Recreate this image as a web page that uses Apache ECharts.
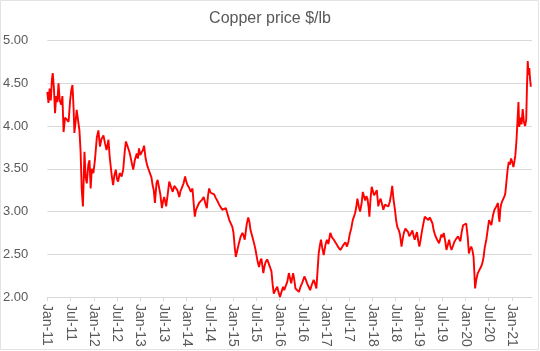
<!DOCTYPE html>
<html>
<head>
<meta charset="utf-8">
<script src="https://cdn.jsdelivr.net/npm/echarts@6/dist/echarts.min.js"></script>
<style>
html,body{margin:0;padding:0;background:#fff;}
#chart{width:540px;height:351px;}
</style>
</head>
<body>
<div id="chart"></div>
<script>
// Months since Jan 2011 (fractional) and copper price in $/lb
var months = [
0.0,0.3,0.6,0.9,1.2,1.4,1.7,2.0,2.3,2.6,2.9,3.2,3.6,3.9,4.2,4.6,5.1,5.5,5.9,6.2,6.5,6.8,7.0,7.3,7.6,8.0,8.3,8.6,8.9,9.2,9.6,9.9,
10.2,10.6,10.9,11.2,11.5,11.9,12.3,12.8,13.2,13.6,14.0,14.5,14.9,15.3,15.8,16.1,16.4,16.7,17.0,17.3,17.7,18.0,18.3,18.7,19.2,19.6,
20.0,20.3,20.6,20.9,21.2,21.5,21.9,22.2,22.6,23.1,23.4,23.7,24.0,24.3,24.7,25.0,25.4,25.8,26.1,26.5,26.9,27.2,27.5,27.8,28.2,28.5,28.9,
29.2,29.6,29.9,30.2,30.7,31.1,31.5,32.0,32.4,32.8,33.2,33.6,34.1,34.4,34.7,35.2,35.6,35.9,36.2,36.6,37.1,37.5,37.8,38.1,38.4,38.8,
39.2,39.7,40.0,40.4,40.8,41.2,41.5,41.8,42.2,42.7,43.1,43.5,44.0,44.4,44.8,45.2,45.6,46.1,46.5,47.0,47.4,47.8,48.1,48.4,48.7,49.1,
49.5,49.9,50.4,50.7,51.0,51.5,51.9,52.2,52.5,53.0,53.4,53.8,54.1,54.4,54.7,55.0,55.3,55.6,55.8,56.1,56.4,56.8,57.2,57.6,57.9,58.2,
58.5,58.9,59.4,59.7,60.1,60.5,60.9,61.2,61.5,62.0,62.4,62.7,63.0,63.5,63.8,64.1,64.6,65.0,65.4,65.8,66.4,66.8,67.1,67.5,67.9,68.3,
68.8,69.2,69.5,69.8,70.1,70.4,70.7,71.0,71.4,71.8,72.2,72.6,73.1,73.5,74.0,74.4,74.8,75.2,75.7,76.1,76.5,77.0,77.4,77.8,78.1,78.5,
78.9,79.2,79.5,79.8,80.1,80.5,80.8,81.2,81.5,81.8,82.1,82.4,82.7,83.0,83.2,83.5,83.8,84.1,84.4,84.8,85.1,85.5,85.8,86.1,86.5,86.8,
87.2,87.7,88.1,88.5,88.8,89.1,89.4,89.8,90.1,90.4,90.8,91.1,91.5,91.8,92.1,92.5,92.8,93.2,93.5,93.9,94.3,94.6,94.9,95.2,95.5,95.8,
96.1,96.4,96.7,97.1,97.5,97.9,98.4,98.8,99.2,99.5,99.8,100.2,100.5,100.8,101.2,101.5,101.8,102.1,102.4,102.8,103.1,103.4,103.8,
104.1,104.4,104.8,105.2,105.6,106.1,106.4,106.7,107.0,107.4,107.8,108.2,108.6,108.9,109.2,109.5,109.8,110.1,110.3,110.5,110.8,
111.2,111.6,112.1,112.4,112.7,113.0,113.4,113.8,114.1,114.4,114.7,115.1,115.5,116.0,116.4,116.6,116.8,117.0,117.2,117.5,117.8,
118.1,118.3,118.6,118.9,119.2,119.5,119.8,120.1,120.4,120.7,120.9,121.2,121.5,121.7,121.9,122.2,122.5,122.8,123.1,123.4,123.7,
123.9,124.1,124.3,124.5,124.7,124.9
];
var prices = [
4.40,4.27,4.44,4.30,4.55,4.62,4.45,4.15,4.35,4.28,4.50,4.30,4.25,4.35,3.93,4.10,4.12,4.05,4.30,4.42,4.48,4.20,3.92,4.05,4.19,4.05,3.95,3.70,3.25,3.06,3.70,3.40,
3.33,3.55,3.60,3.27,3.50,3.45,3.60,3.87,3.95,3.76,3.85,3.89,3.80,3.72,3.84,3.65,3.52,3.40,3.31,3.42,3.49,3.38,3.35,3.45,3.41,3.49,
3.70,3.82,3.78,3.76,3.70,3.64,3.55,3.49,3.60,3.68,3.62,3.74,3.66,3.64,3.72,3.77,3.62,3.54,3.50,3.45,3.40,3.31,3.25,3.10,3.33,3.37,3.35,
3.20,3.04,3.12,3.17,3.06,3.20,3.35,3.28,3.23,3.30,3.31,3.25,3.17,3.24,3.27,3.33,3.41,3.35,3.31,3.28,3.23,3.27,3.10,2.94,3.02,3.04,
3.10,3.08,3.14,3.17,3.10,3.04,3.18,3.27,3.22,3.23,3.20,3.16,3.12,3.08,3.05,3.02,3.00,3.04,2.98,2.90,2.88,2.82,2.75,2.59,2.47,2.55,
2.63,2.70,2.75,2.72,2.67,2.85,2.93,2.88,2.78,2.70,2.63,2.55,2.47,2.40,2.35,2.42,2.45,2.35,2.28,2.36,2.41,2.44,2.39,2.34,2.30,2.15,
2.04,2.08,2.12,2.06,2.00,2.06,2.12,2.08,2.06,2.18,2.28,2.22,2.16,2.28,2.20,2.10,2.08,2.06,2.12,2.16,2.24,2.20,2.16,2.12,2.08,2.14,
2.20,2.15,2.10,2.30,2.51,2.60,2.67,2.58,2.49,2.60,2.67,2.62,2.75,2.70,2.67,2.64,2.61,2.58,2.55,2.58,2.61,2.64,2.59,2.65,2.73,2.80,
2.90,2.92,2.98,3.05,3.15,3.05,3.00,3.10,3.23,3.18,3.13,3.18,3.15,3.05,2.94,3.15,3.29,3.24,3.19,3.22,3.25,3.06,3.12,3.15,3.08,3.02,
3.08,3.10,3.06,3.12,3.20,3.30,3.15,3.02,2.90,2.82,2.78,2.73,2.59,2.68,2.75,2.80,2.82,2.76,2.71,2.74,2.78,2.72,2.67,2.72,2.76,2.66,
2.59,2.66,2.75,2.85,2.94,2.92,2.90,2.93,2.94,2.86,2.78,2.72,2.69,2.66,2.63,2.68,2.73,2.70,2.75,2.65,2.55,2.60,2.67,
2.60,2.55,2.60,2.65,2.68,2.71,2.68,2.65,2.75,2.84,2.82,2.86,2.70,2.51,2.56,2.59,2.55,2.47,2.30,2.10,2.20,
2.28,2.30,2.36,2.40,2.47,2.58,2.67,2.80,2.90,2.88,2.84,2.95,3.02,3.06,3.10,2.95,2.88,3.02,3.08,3.12,3.14,
3.18,3.21,3.35,3.49,3.58,3.55,3.62,3.58,3.52,3.60,3.66,3.84,4.10,4.28,3.99,4.10,4.02,4.20,4.05,4.00,4.07,
4.45,4.76,4.60,4.68,4.55,4.46
];
var tickMonths = [0,6,12,18,24,30,36,42,48,54,60,66,72,78,84,90,96,102,108,114,120];
var tickLabels = ['Jan-11','Jul-11','Jan-12','Jul-12','Jan-13','Jul-13','Jan-14','Jul-14','Jan-15','Jul-15',
  'Jan-16','Jul-16','Jan-17','Jul-17','Jan-18','Jul-18','Jan-19','Jul-19','Jan-20','Jul-20','Jan-21'];
var titleText = 'Copper price $/lb';

var seriesData = months.map(function (m, i) { return [m, prices[i]]; });
var labelMap = {};
tickMonths.forEach(function (m, i) { labelMap[m] = tickLabels[i]; });

var chart = echarts.init(document.getElementById('chart'), null, {renderer: 'canvas'});
var font = '"Liberation Sans", Arial, sans-serif';
chart.setOption({
  animation: false,
  backgroundColor: '#ffffff',
  title: {
    text: titleText,
    left: 'center',
    top: 6,
    textStyle: {fontFamily: font, fontSize: 16, fontWeight: 'normal', color: '#595959'}
  },
  graphic: [{
    type: 'rect',
    shape: {x: 0.5, y: 0.5, width: 538, height: 349},
    style: {fill: 'none', stroke: '#e3e3e3', lineWidth: 1},
    silent: true
  }],
  grid: {left: 44, right: 8, top: 40.6, bottom: 54, containLabel: false},
  xAxis: {
    type: 'value',
    min: 0,
    max: 125.2,
    interval: 6,
    splitLine: {show: false},
    axisLine: {show: true, lineStyle: {color: '#d9d9d9', width: 1}},
    axisTick: {show: true, length: 4, lineStyle: {color: '#d9d9d9'}, customValues: tickMonths},
    axisLabel: {
      customValues: tickMonths,
      rotate: -90,
      margin: 7,
      fontFamily: font,
      fontSize: 14,
      color: '#595959',
      formatter: function (v) { return labelMap[Math.round(v)] || ''; }
    }
  },
  yAxis: {
    type: 'value',
    min: 2,
    max: 5,
    interval: 0.5,
    axisLine: {show: false},
    axisTick: {show: false},
    splitLine: {lineStyle: {color: '#d9d9d9', width: 1}},
    axisLabel: {
      margin: 19,
      fontFamily: font,
      fontSize: 13,
      color: '#595959',
      formatter: function (v) { return v.toFixed(2); }
    }
  },
  series: [{
    type: 'line',
    data: seriesData,
    showSymbol: false,
    lineStyle: {color: '#ff0000', width: 1.9},
    itemStyle: {color: '#ff0000'}
  }]
});
</script>
</body>
</html>
